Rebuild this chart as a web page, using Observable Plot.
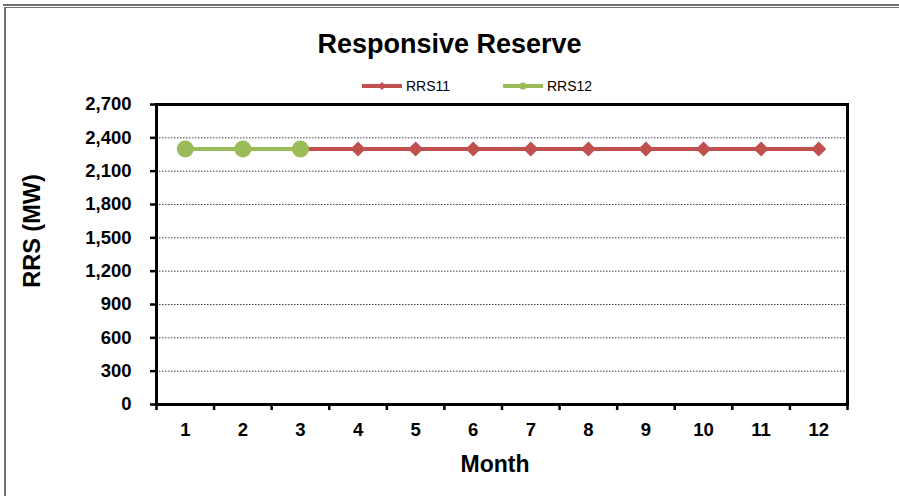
<!DOCTYPE html>
<html>
<head>
<meta charset="utf-8">
<script src="https://cdn.jsdelivr.net/npm/d3@7"></script>
<script src="https://cdn.jsdelivr.net/npm/@observablehq/plot@0.6"></script>
<style>
  html, body { margin: 0; padding: 0; background: #fff; }
  #wrap { position: relative; width: 899px; height: 496px; overflow: hidden; font-family: "Liberation Sans", Arial, sans-serif; }
  #wrap svg { position: absolute; left: 0; top: 0; }
  .ov { position: absolute; white-space: nowrap; color: #000; }
  .fl { position: absolute; background: #6f6f6f; }
</style>
</head>
<body>
<div id="wrap">
  <div class="fl" style="left:3px; top:4px; width:896px; height:2px;"></div>
  <div class="fl" style="left:5px; top:7px; width:894px; height:1px;"></div>
  <div class="fl" style="left:4px; top:7px; width:2px; height:489px;"></div>
</div>
<script>
const months = [1, 2, 3, 4, 5, 6, 7, 8, 9, 10, 11, 12];
const rrs11 = [2300, 2300, 2300, 2300, 2300, 2300, 2300, 2300, 2300, 2300, 2300, 2300];
const rrs12Months = [1, 2, 3];
const rrs12 = [2300, 2300, 2300];
const yTicks = [0, 300, 600, 900, 1200, 1500, 1800, 2100, 2400, 2700];
const gridTicks = [300, 600, 900, 1200, 1500, 1800, 2100, 2400];
const seriesNames = ["RRS11", "RRS12"];
const colors = ["#C0504D", "#9BBB59"];

const d11 = months.map((m, i) => ({month: m, value: rrs11[i]}));
const d12 = rrs12Months.map((m, i) => ({month: m, value: rrs12[i]}));
const bounds = months.map(m => m - 0.5).concat([months[months.length - 1] + 0.5]);

const font = "'Liberation Sans', Arial, sans-serif";

const chart = Plot.plot({
  width: 899,
  height: 496,
  marginLeft: 156,
  marginRight: 52,
  marginTop: 104,
  marginBottom: 92,
  style: {fontFamily: font, background: "transparent", overflow: "visible"},
  x: {domain: [0.5, 12.5], axis: null},
  y: {domain: [0, 2700], axis: null},
  marks: [
    Plot.ruleY(gridTicks, {stroke: "#444", strokeWidth: 1, strokeDasharray: "1.5,1.5"}),
    Plot.axisY({ticks: yTicks, tickSize: 6, tickPadding: 19, tickFormat: d3.format(","), label: null,
      fontSize: 18.5, fontWeight: "bold", strokeWidth: 2.5, stroke: "#000", fill: "#000"}),
    Plot.axisX({ticks: bounds, tickSize: 6, tickFormat: () => "", label: null, strokeWidth: 2.5, stroke: "#000"}),
    Plot.axisX({ticks: months, tickSize: 0, tickPadding: 18, tickFormat: d => String(d), label: null,
      fontSize: 18.5, fontWeight: "bold", fill: "#000"}),
    Plot.frame({stroke: "#000", strokeWidth: 3}),
    Plot.line(d11, {x: "month", y: "value", stroke: colors[0], strokeWidth: 4}),
    Plot.dot(d11, {x: "month", y: "value", symbol: "diamond2", r: 6.8, fill: colors[0], stroke: "none"}),
    Plot.line(d12, {x: "month", y: "value", stroke: colors[1], strokeWidth: 4}),
    Plot.dot(d12, {x: "month", y: "value", symbol: "circle", r: 8.5, fill: colors[1], stroke: "none"})
  ]
});
const wrap = document.getElementById("wrap");
wrap.insertBefore(chart, wrap.firstChild);
d3.select(chart).selectAll("text")
  .style("font-size", "18.5px")
  .style("font-weight", "bold")
  .style("font-family", font);

function addText(txt, style) {
  const d = document.createElement("div");
  d.className = "ov";
  d.textContent = txt;
  Object.assign(d.style, style);
  wrap.appendChild(d);
  return d;
}
// Title
addText("Responsive Reserve", {left: "0px", width: "899px", top: "28px", textAlign: "center", fontSize: "27px", fontWeight: "bold", lineHeight: "32px"});
// Axis titles
addText("Month", {left: "395px", width: "200px", top: "451px", textAlign: "center", fontSize: "23px", fontWeight: "bold", lineHeight: "26px"});
addText("RRS (MW)", {left: "32px", top: "231px", fontSize: "23.5px", fontWeight: "bold", lineHeight: "26px", transform: "translate(-50%,-50%) rotate(-90deg)"});

// Legend
const legend = d3.select(wrap).append("svg")
  .attr("width", 899).attr("height", 30)
  .style("position", "absolute").style("left", "0px").style("top", "71px");
const legItems = [
  {name: seriesNames[0], color: colors[0], x0: 362, x1: 402, sym: d3.symbolDiamond2, size: 40, tx: 406},
  {name: seriesNames[1], color: colors[1], x0: 503, x1: 543, sym: d3.symbolCircle, size: 40, tx: 547}
];
for (const it of legItems) {
  legend.append("line").attr("x1", it.x0).attr("x2", it.x1).attr("y1", 15).attr("y2", 15)
    .attr("stroke", it.color).attr("stroke-width", 4);
  legend.append("path").attr("d", d3.symbol(it.sym, it.size)())
    .attr("transform", `translate(${(it.x0 + it.x1) / 2},15)`).attr("fill", it.color);
  legend.append("text").attr("x", it.tx).attr("y", 15).attr("dy", "0.35em")
    .attr("font-family", font).attr("font-size", 14).attr("fill", "#000").text(it.name);
}
</script>
</body>
</html>
